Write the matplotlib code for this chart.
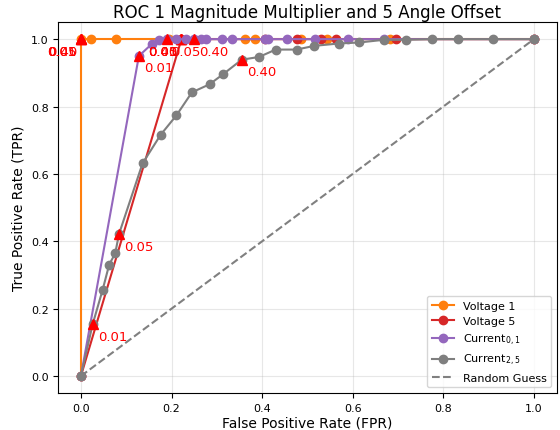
import numpy as np
import matplotlib
matplotlib.use("Agg")
import matplotlib.pyplot as plt

# ROC points
v1_fpr = [0.0, 0.0, 0.023, 0.077, 0.195, 0.362, 0.384, 0.486, 0.543, 0.682, 1.0]
v1_tpr = [0.0, 1.0, 1.0, 1.0, 1.0, 1.0, 1.0, 1.0, 1.0, 1.0, 1.0]

v5_fpr = [0.0, 0.222, 0.406, 0.476, 0.529, 0.563, 0.695, 1.0]
v5_tpr = [0.0, 1.0, 1.0, 1.0, 1.0, 1.0, 1.0, 1.0]

c01_fpr = [0.0, 0.128, 0.156, 0.173, 0.189, 0.211, 0.231, 0.25, 0.266, 0.277,
           0.311, 0.333, 0.406, 0.413, 0.454, 0.517, 0.590, 0.668, 1.0]
c01_tpr = [0.0, 0.95, 0.985, 0.997, 1.0, 1.0, 1.0, 1.0, 1.0, 1.0,
           1.0, 1.0, 1.0, 1.0, 1.0, 1.0, 1.0, 1.0, 1.0]

c25_fpr = [0.0, 0.026, 0.048, 0.0625, 0.0757, 0.084, 0.136, 0.176, 0.211, 0.245,
           0.284, 0.314, 0.355, 0.393, 0.430, 0.476, 0.515, 0.569, 0.614, 0.669,
           0.717, 0.774, 0.832, 0.910, 1.0]
c25_tpr = [0.0, 0.154, 0.256, 0.331, 0.364, 0.421, 0.631, 0.716, 0.774, 0.842,
           0.866, 0.896, 0.939, 0.947, 0.969, 0.969, 0.980, 0.987, 0.990, 0.998,
           0.998, 1.0, 1.0, 1.0, 1.0]

# threshold markers (fpr, tpr) for thresholds 0.01, 0.05, 0.40
thresholds = ["0.01", "0.05", "0.40"]
v1_thr_fpr = [0.0, 0.0, 0.0]
v1_thr_tpr = [1.0, 1.0, 1.0]
v5_thr_fpr = [0.222, 0.222, 0.222]
v5_thr_tpr = [1.0, 1.0, 1.0]
c01_thr_fpr = [0.128, 0.189, 0.25]
c01_thr_tpr = [0.95, 1.0, 1.0]
c25_thr_fpr = [0.026, 0.084, 0.355]
c25_thr_tpr = [0.154, 0.421, 0.939]

series = [
    ("Voltage 1", v1_fpr, v1_tpr, v1_thr_fpr, v1_thr_tpr, "tab:orange", "left"),
    ("Voltage 5", v5_fpr, v5_tpr, v5_thr_fpr, v5_thr_tpr, "tab:red", "left"),
    ("Current$_{0,1}$", c01_fpr, c01_tpr, c01_thr_fpr, c01_thr_tpr, "tab:purple", "right"),
    ("Current$_{2,5}$", c25_fpr, c25_tpr, c25_thr_fpr, c25_thr_tpr, "tab:gray", "right"),
]

fig, ax = plt.subplots(figsize=(5.6, 4.31), dpi=100)
fig.subplots_adjust(left=0.104, right=0.994, top=0.946, bottom=0.086)

for name, fpr, tpr, tf, tt, col, side in series:
    ax.plot(fpr, tpr, marker='o', color=col, markersize=6, linewidth=1.5, label=name)
    ax.plot(tf, tt, linestyle='none', marker='^', color='red', markersize=7)
    for x, y, lab in zip(tf, tt, thresholds):
        if side == "left":
            ax.annotate(lab, (x, y), xytext=(-4, -12), textcoords='offset pixels',
                        ha='right', va='center', color='red', fontsize=9.5)
        else:
            ax.annotate(lab, (x, y), xytext=(5, -12), textcoords='offset pixels',
                        ha='left', va='center', color='red', fontsize=9.5)

ax.plot([0, 1], [0, 1], linestyle='--', color='gray', label='Random Guess')

ax.set_title("ROC 1 Magnitude Multiplier and 5 Angle Offset", fontsize=12, pad=4)
ax.set_xlabel("False Positive Rate (FPR)", fontsize=10, labelpad=2)
ax.set_ylabel("True Positive Rate (TPR)", fontsize=10)
ax.tick_params(labelsize=8)
ax.grid(True, alpha=0.3)
ax.legend(loc='lower right', fontsize=8)

fig.savefig("out.png", dpi=100)
